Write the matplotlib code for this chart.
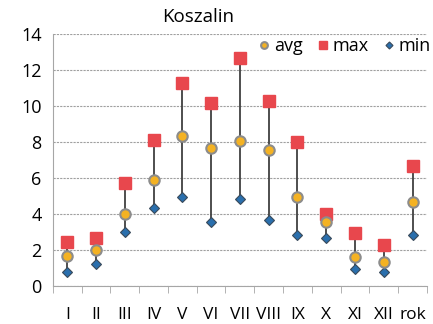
import matplotlib
matplotlib.use("Agg")
import matplotlib.pyplot as plt
import numpy as np

months = ["I", "II", "III", "IV", "V", "VI", "VII", "VIII", "IX", "X", "XI", "XII", "rok"]
avg_vals = [1.65, 1.98, 3.98, 5.9, 8.35, 7.65, 8.07, 7.57, 4.93, 3.54, 1.59, 1.33, 4.68]
max_vals = [2.44, 2.65, 5.7, 8.1, 11.3, 10.17, 12.67, 10.3, 8.0, 3.98, 2.94, 2.26, 6.68]
min_vals = [0.78, 1.2, 3.02, 4.35, 4.96, 3.57, 4.85, 3.69, 2.85, 2.68, 0.93, 0.78, 2.82]

plt.rcParams["font.family"] = ["Open Sans", "DejaVu Sans"]

fig = plt.figure(figsize=(4.33, 3.24), dpi=100)
ax = fig.add_axes([0.122, 0.117, 0.864, 0.778])

x = np.arange(len(months))
ax.vlines(x, min_vals, max_vals, color="#404040", linewidth=1.3, zorder=2)
ax.plot(x, avg_vals, "o", ms=7.5, mfc="#f4b223", mec="#8c8c8c", mew=1.5, zorder=4, label="avg")
ax.plot(x, max_vals, "s", ms=8, mfc="#e8474d", mec="#e8474d", zorder=3, label="max")
ax.plot(x, min_vals, "D", ms=5.5, mfc="#2a6fad", mec="#3a4a5a", mew=0.8, zorder=3, label="min")

ax.set_xlim(-0.5, len(months) - 0.5)
ax.set_ylim(0, 14)
ax.set_yticks(range(0, 15, 2))
ax.set_xticks(x)
ax.set_xticklabels(months)
ax.set_xticks(np.arange(-0.5, len(months), 1), minor=True)
ax.tick_params(axis="x", which="major", length=0, pad=15, labelsize=12.5)
ax.tick_params(axis="x", which="minor", length=5, color="#a6a6a6", direction="out")
ax.tick_params(axis="y", length=0, pad=8, labelsize=13)
ax.yaxis.grid(True, linestyle=(0, (2, 1)), color="#a0a0a0", linewidth=0.8)
ax.set_axisbelow(True)
for side in ("top", "right"):
    ax.spines[side].set_visible(False)
for side in ("left", "bottom"):
    ax.spines[side].set_color("#a6a6a6")

# chart title sits left of the plot centre
fig.text(0.457, 0.948, "Koszalin", fontsize=13.5, ha="center", va="center")
ax.legend(loc="center right", bbox_to_anchor=(1.03, 0.952), ncol=3, frameon=False,
          fontsize=13, handletextpad=0.05, columnspacing=0.6, handlelength=1.0,
          markerscale=0.65, borderaxespad=0)

fig.savefig("out.png", dpi=100)
